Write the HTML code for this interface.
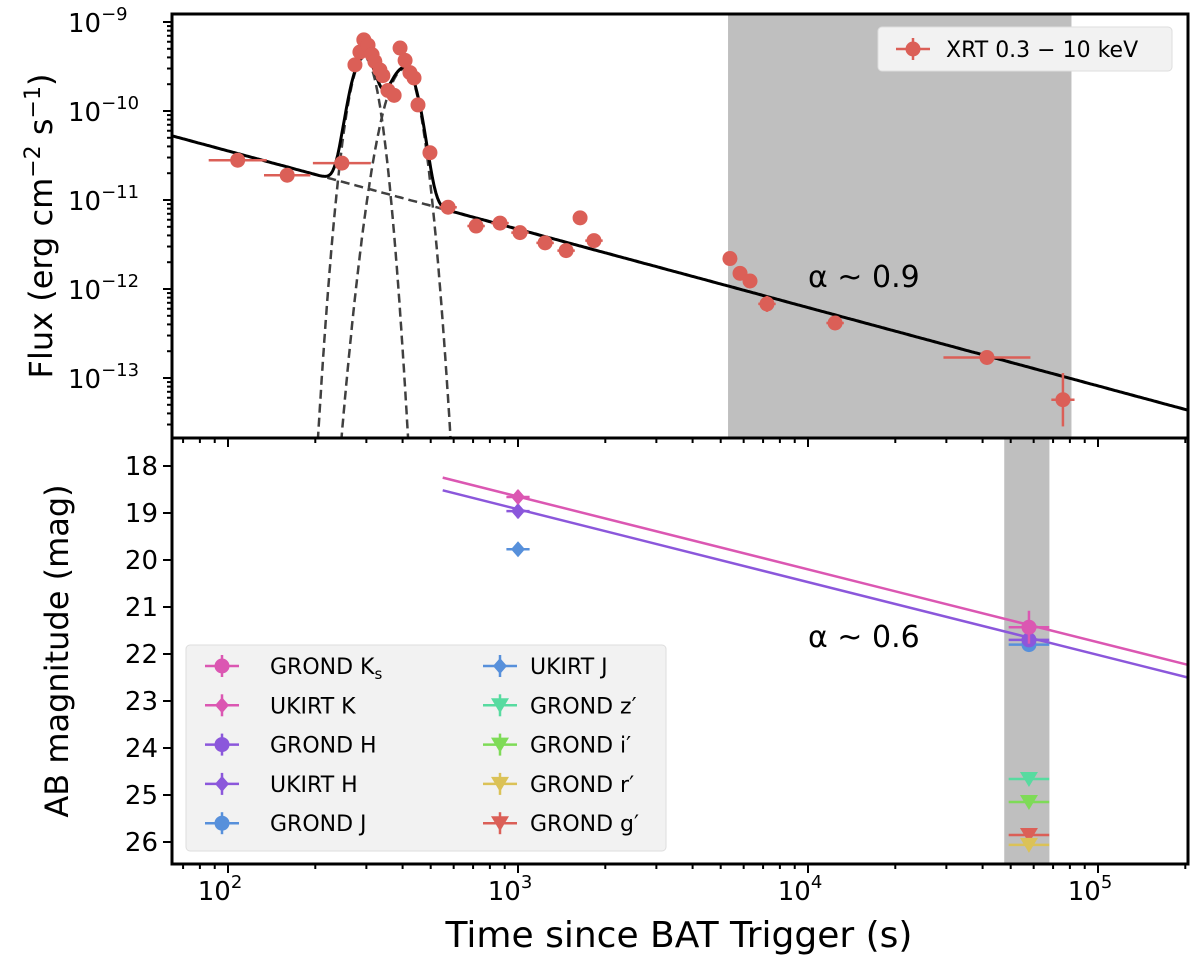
<!DOCTYPE html>
<html><head><meta charset="utf-8"><style>
html,body{margin:0;padding:0;background:#fff;width:1200px;height:966px;overflow:hidden;}
svg{display:block;font-family:"DejaVu Sans","Liberation Sans",sans-serif;overflow:hidden;}
</style></head><body>
<svg id="c" width="1200" height="966" viewBox="0 0 1200 966"></svg>
<script>
// ---- data ----
const xrtTime=[108,160,247,274,285,294,304,314,321,334,342,356,374,392,408,424,438,452,497,574,717,867,1016,1240,1465,1637,1828,5380,5830,6310,7220,12400,41400,75700];
const xrtFlux=[2.8e-11,1.9e-11,2.6e-11,3.3e-10,4.6e-10,6.3e-10,5.5e-10,4.3e-10,3.6e-10,2.9e-10,2.5e-10,1.7e-10,1.5e-10,5.1e-10,3.7e-10,2.7e-10,2.35e-10,1.17e-10,3.4e-11,8.3e-12,5.1e-12,5.5e-12,4.3e-12,3.3e-12,2.7e-12,6.3e-12,3.5e-12,2.2e-12,1.5e-12,1.23e-12,6.8e-13,4.15e-13,1.7e-13,5.7e-14];
const xrtXerrDex=[0.1,0.08,0.1,0.01,0.01,0.01,0.01,0.01,0.01,0.01,0.01,0.01,0.01,0.01,0.01,0.01,0.01,0.01,0.02,0.03,0.03,0.03,0.03,0.03,0.03,0.02,0.03,0.01,0.02,0.02,0.03,0.03,0.15,0.04];
const xrtYerrDex=[0.06,0.06,0.06,0.03,0.03,0.03,0.03,0.03,0.03,0.03,0.03,0.03,0.03,0.03,0.03,0.03,0.03,0.03,0.04,0.04,0.05,0.05,0.05,0.06,0.07,0.07,0.06,0.07,0.07,0.07,0.09,0.07,0.07,0.3];
const plNorm=3.56e-11, plAlpha=0.88;
const flareAmp=[4.0e-10,3.0e-10], flareMu=[2.47,2.61], flareSr=[0.036,0.05], flareSd=[0.034,0.036];
const magBands=["GROND Ks","UKIRT K","GROND H","UKIRT H","GROND J","UKIRT J","GROND z′","GROND i′","GROND r′","GROND g′"];
const magTime=[57800,1000,57800,1000,57800,1000,57800,57800,57800,57800];
const magVal=[21.43,18.66,21.70,18.96,21.80,19.77,24.66,25.15,26.06,25.85];
const magYerr=[0.35,0.15,0.12,0.15,0.1,0.12,0.05,0.05,0.05,0.05];
const magXerrDex=[0.07,0.04,0.07,0.04,0.07,0.04,0.07,0.07,0.07,0.07];
const magColor=["#db57b2","#db57b2","#8b57db","#8b57db","#5790db","#5790db","#57dba0","#7edb57","#dbc257","#db5f57"];
const magMarker=["o","D","o","D","o","D","v","v","v","v"];
const fitMag1000=[18.65,18.92], fitSlope=1.55, fitColor=["#db57b2","#8b57db"];
// ---- axes ----
const L=172,R=1188,T1=14,B1=438,B2=864;
const xs=t=>228+(Math.log10(t)-2)*290;
const ys1=f=>22-(Math.log10(f)+9)*89;
const ys2=m=>466+(m-18)*47;
const svg=document.getElementById('c');const NS="http://www.w3.org/2000/svg";
function el(tag,a,parent){const e=document.createElementNS(NS,tag);for(const k in a)e.setAttribute(k,a[k]);(parent||svg).appendChild(e);return e;}
const defs=el('defs',{});
const c1=el('clipPath',{id:'cp1'},defs);el('rect',{x:L,y:T1,width:R-L,height:B1-T1},c1);
const c2=el('clipPath',{id:'cp2'},defs);el('rect',{x:L,y:B1,width:R-L,height:B2-B1},c2);
const g1=el('g',{'clip-path':'url(#cp1)'});


const g2=el('g',{'clip-path':'url(#cp2)'});


const band1=el('rect',{x:xs(5300),y:T1,width:xs(81000)-xs(5300),height:B1-T1,fill:'#bfbfbf'},g1);


const band2=el('rect',{x:xs(47500),y:B1,width:xs(68000)-xs(47500),height:B2-B1,fill:'#bfbfbf'},g2);


const pl=t=>plNorm*Math.pow(t/100,-plAlpha);
const fl=(i,t)=>{const d=Math.log10(t)-flareMu[i];const s=d<0?flareSr[i]:flareSd[i];return flareAmp[i]*Math.exp(-d*d/(2*s*s));};
function path(fn,t0,t1,n){let d='';for(let k=0;k<=n;k++){const lt=Math.log10(t0)+(Math.log10(t1)-Math.log10(t0))*k/n;const t=Math.pow(10,lt);let y=ys1(fn(t));if(y>900)y=900;d+=(k?'L':'M')+xs(t).toFixed(1)+','+y.toFixed(1);}return d;}
for(let i=0;i<2;i++){const p=el('path',{d:path(t=>fl(i,t),150,700,300),fill:'none',stroke:'#404040','stroke-width':2.5,'stroke-dasharray':'9,5'},g1);

}
const pd=el('path',{d:path(pl,220,600,50),fill:'none',stroke:'#404040','stroke-width':2.5,'stroke-dasharray':'9,5'},g1);


const ps=el('path',{d:path(t=>pl(t)+fl(0,t)+fl(1,t),60,220000,600),fill:'none',stroke:'#000','stroke-width':3},g1);


for(let i=0;i<xrtTime.length;i++){const x=xs(xrtTime[i]),y=ys1(xrtFlux[i]);const g=el('g',{},g1);


el('line',{x1:x-xrtXerrDex[i]*290,x2:x+xrtXerrDex[i]*290,y1:y,y2:y,stroke:'#db5f57','stroke-width':2.5},g);
el('line',{x1:x,x2:x,y1:y-xrtYerrDex[i]*89,y2:y+xrtYerrDex[i]*89,stroke:'#db5f57','stroke-width':2.5},g);
el('circle',{cx:x,cy:y,r:7.5,fill:'#db5f57'},g);}
for(let j=0;j<2;j++){const m=t=>fitMag1000[j]+fitSlope*(Math.log10(t)-3);const f=el('line',{x1:xs(550),y1:ys2(m(550)),x2:xs(210000),y2:ys2(m(210000)),stroke:fitColor[j],'stroke-width':2.5},g2);

}
function marker(type,x,y,c,parent){if(type==='o')return el('circle',{cx:x,cy:y,r:7.5,fill:c},parent);
if(type==='D')return el('polygon',{points:`${x},${y-8} ${x+7},${y} ${x},${y+8} ${x-7},${y}`,fill:c},parent);
return el('polygon',{points:`${x-9},${y-7} ${x+9},${y-7} ${x},${y+8}`,fill:c},parent);}
const order=[9,8,7,6,5,4,3,2,1,0];
for(const i of order){const x=xs(magTime[i]),y=ys2(magVal[i]);const g=el('g',{},g2);


el('line',{x1:x-magXerrDex[i]*290,x2:x+magXerrDex[i]*290,y1:y,y2:y,stroke:magColor[i],'stroke-width':2.5},g);
el('line',{x1:x,x2:x,y1:y-magYerr[i]*47,y2:y+magYerr[i]*47,stroke:magColor[i],'stroke-width':2.5},g);
marker(magMarker[i],x,y,magColor[i],g);}
const a1=el('text',{x:808,y:287,'font-size':30},svg);a1.textContent='α ~ 0.9';

const a2=el('text',{x:808,y:647,'font-size':30},svg);a2.textContent='α ~ 0.6';

const sp=el('g',{fill:'none',stroke:'#000','stroke-width':3});

el('rect',{x:L,y:T1,width:R-L,height:B1-T1},sp);el('rect',{x:L,y:B1,width:R-L,height:B2-B1},sp);
const tk=el('g',{stroke:'#000','stroke-width':2});

const xMajor=[100,1000,10000,100000];const xMajorLbl=["2","3","4","5"];
for(let d=1;d<=5;d++)for(let k=1;k<10;k++){const t=k*Math.pow(10,d);const x=xs(t);if(x<L||x>R)continue;const len=k===1?9:5;
for(const yb of [B1,B2])el('line',{x1:x,x2:x,y1:yb,y2:yb+len},tk);}
for(let d=-14;d<=-9;d++)for(let k=1;k<10;k++){const y=ys1(k*Math.pow(10,d));if(y<T1||y>B1)continue;const len=k===1?9:5;el('line',{x1:L,x2:L-len,y1:y,y2:y},tk);}
for(let m=18;m<=26;m++){el('line',{x1:L,x2:L-9,y1:ys2(m),y2:ys2(m)},tk);}
const xl=el('g',{'font-size':26});
xMajor.forEach((t,i)=>{const tx=el('text',{x:xs(t)-8,y:900,'text-anchor':'middle'},xl);tx.textContent='10';const s=el('tspan',{dy:-12,'font-size':18},tx);s.textContent=xMajorLbl[i];});
const yl=el('g',{'font-size':26});
[-9,-10,-11,-12,-13].forEach(p=>{const y=ys1(Math.pow(10,p));const tx=el('text',{x:68,y:y+10},yl);tx.textContent='10';const s=el('tspan',{dy:-12,'font-size':18},tx);s.textContent='−'+(-p);});
const ml=el('g',{'font-size':26,'text-anchor':'end'});
for(let m=18;m<=26;m++){const tx=el('text',{x:158,y:ys2(m)+9},ml);tx.textContent=String(m);}
const xt=el('text',{x:679,y:947,'font-size':36,'text-anchor':'middle'});xt.textContent='Time since BAT Trigger (s)';

const yt=el('text',{x:0,y:0,'font-size':32,'text-anchor':'middle',transform:'translate(52,226) rotate(-90)'});yt.textContent='Flux (erg cm';
let s1=el('tspan',{dy:-12,'font-size':22},yt);s1.textContent='−2';let s2=el('tspan',{dy:12},yt);s2.textContent=' s';let s3=el('tspan',{dy:-12,'font-size':22},yt);s3.textContent='−1';let s4=el('tspan',{dy:12},yt);s4.textContent=')';

const yt2=el('text',{x:0,y:0,'font-size':32,'text-anchor':'middle',transform:'translate(68,651) rotate(-90)'});yt2.textContent='AB magnitude (mag)';

const lg1=el('g',{});
el('rect',{x:878,y:27,width:294,height:44,rx:4,fill:'#f2f2f2',stroke:'#dddddd'},lg1);
el('line',{x1:896,x2:930,y1:49,y2:49,stroke:'#db5f57','stroke-width':2.5},lg1);el('line',{x1:913,x2:913,y1:38,y2:60,stroke:'#db5f57','stroke-width':2.5},lg1);
el('circle',{cx:913,cy:49,r:7.5,fill:'#db5f57'},lg1);
const lt=el('text',{x:946,y:57,'font-size':22},lg1);lt.textContent='XRT 0.3 − 10 keV';
const lg2=el('g',{});
el('rect',{x:186,y:645,width:480,height:206,rx:4,fill:'#f2f2f2',stroke:'#dddddd'},lg2);
const legOrder=[0,1,2,3,4,5,6,7,8,9];
const legLabels=["GROND K","UKIRT K","GROND H","UKIRT H","GROND J","UKIRT J","GROND z′","GROND i′","GROND r′","GROND g′"];
legOrder.forEach((i,n)=>{const col=n<5?0:1;const row=n%5;const mx=col?500:222,tx=col?530:270,y=666+row*39.3;
const e=el('g',{},lg2);


el('line',{x1:mx-17,x2:mx+17,y1:y,y2:y,stroke:magColor[i],'stroke-width':2.5},e);el('line',{x1:mx,x2:mx,y1:y-11,y2:y+11,stroke:magColor[i],'stroke-width':2.5},e);
marker(magMarker[i],mx,y,magColor[i],e);
const t=el('text',{x:tx,y:y+8,'font-size':22},e);t.textContent=legLabels[i];
if(i===0){const s=el('tspan',{dy:5,'font-size':15},t);s.textContent='s';}});
</script>
</body></html>
